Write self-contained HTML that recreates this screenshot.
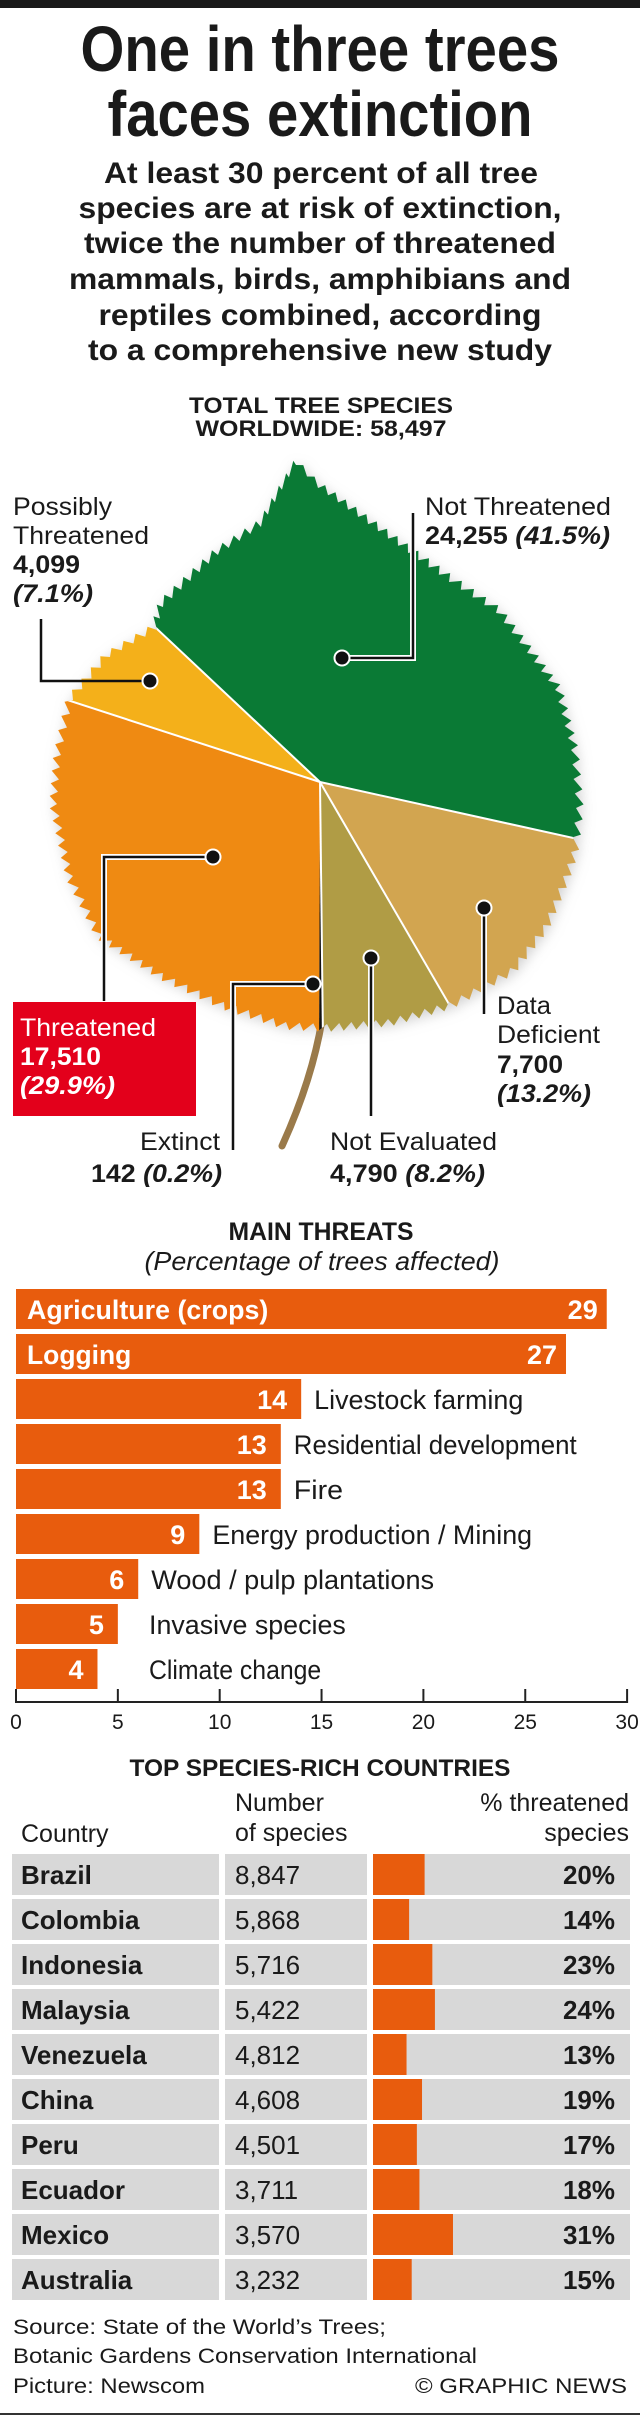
<!DOCTYPE html>
<html><head><meta charset="utf-8"><style>
html,body{margin:0;padding:0;background:#fff;}
svg{display:block;}
text{font-family:"Liberation Sans",sans-serif;fill:#1a1a1a;}
</style></head><body>
<svg id="g" width="640" height="2418" viewBox="0 0 640 2418" xmlns="http://www.w3.org/2000/svg">
<defs>
<filter id="sh" x="-10%" y="-10%" width="120%" height="120%"><feGaussianBlur stdDeviation="6"/></filter>
<clipPath id="leafclip"><path id="leafpathc" d=""/></clipPath>
</defs>
<rect x="0" y="0" width="640" height="8" fill="#1a1a1a"/>
<g font-weight="bold" text-anchor="middle">
<text x="320" y="71" font-size="64" textLength="479" lengthAdjust="spacingAndGlyphs">One in three trees</text>
<text x="320" y="136" font-size="64" textLength="425" lengthAdjust="spacingAndGlyphs">faces extinction</text>
</g>
<g font-weight="bold" text-anchor="middle" font-size="30">
<text x="321" y="183" textLength="434" lengthAdjust="spacingAndGlyphs">At least 30 percent of all tree</text>
<text x="320" y="218" textLength="483" lengthAdjust="spacingAndGlyphs">species are at risk of extinction,</text>
<text x="320" y="253" textLength="472" lengthAdjust="spacingAndGlyphs">twice the number of threatened</text>
<text x="320" y="289" textLength="502" lengthAdjust="spacingAndGlyphs">mammals, birds, amphibians and</text>
<text x="320" y="325" textLength="443" lengthAdjust="spacingAndGlyphs">reptiles combined, according</text>
<text x="320" y="360" textLength="464" lengthAdjust="spacingAndGlyphs">to a comprehensive new study</text>
</g>
<g font-weight="bold" text-anchor="middle" font-size="22">
<text x="321" y="413" textLength="264" lengthAdjust="spacingAndGlyphs">TOTAL TREE SPECIES</text>
<text x="321" y="436" textLength="251" lengthAdjust="spacingAndGlyphs">WORLDWIDE: 58,497</text>
</g>
<g id="leaf"></g>
<g id="callouts">
<path d="M41,619 V681 H150" fill="none" stroke="#111" stroke-width="2.5"/>
<path d="M413,513 V658 H342" fill="none" stroke="#fff" stroke-width="6"/>
<path d="M413,513 V658 H342" fill="none" stroke="#111" stroke-width="2.5"/>
<path d="M104,1001 V857 H213" fill="none" stroke="#fff" stroke-width="6"/>
<path d="M104,1001 V857 H213" fill="none" stroke="#111" stroke-width="2.5"/>
<path d="M233,1150 V984 H313" fill="none" stroke="#fff" stroke-width="6"/>
<path d="M233,1150 V984 H313" fill="none" stroke="#111" stroke-width="2.5"/>
<path d="M371,1116 V958" fill="none" stroke="#fff" stroke-width="6"/>
<path d="M371,1116 V958" fill="none" stroke="#111" stroke-width="2.5"/>
<path d="M484,1014 V908" fill="none" stroke="#fff" stroke-width="6"/>
<path d="M484,1014 V908" fill="none" stroke="#111" stroke-width="2.5"/>
<g fill="#111" stroke="#fff" stroke-width="2">
<circle cx="150" cy="681" r="7.5"/>
<circle cx="342" cy="658" r="7.5"/>
<circle cx="213" cy="857" r="7.5"/>
<circle cx="313" cy="984" r="7.5"/>
<circle cx="371" cy="958" r="7.5"/>
<circle cx="484" cy="908" r="7.5"/>
</g>
<g font-size="25">
<g>
<text x="13" y="515" textLength="99" lengthAdjust="spacingAndGlyphs">Possibly</text>
<text x="13" y="544" textLength="136" lengthAdjust="spacingAndGlyphs">Threatened</text>
<text x="13" y="573" font-weight="bold" textLength="67" lengthAdjust="spacingAndGlyphs">4,099</text>
<text x="13" y="602" font-weight="bold" font-style="italic" textLength="80" lengthAdjust="spacingAndGlyphs">(7.1%)</text>
</g>
<g>
<text x="425" y="515" textLength="186" lengthAdjust="spacingAndGlyphs">Not Threatened</text>
<text x="425" y="544" font-weight="bold" textLength="185" lengthAdjust="spacingAndGlyphs">24,255 <tspan font-style="italic">(41.5%)</tspan></text>
</g>
<g>
<rect x="13" y="1002" width="183" height="114" fill="#e3001b"/>
<text x="20" y="1036" style="fill:#fff" textLength="136" lengthAdjust="spacingAndGlyphs">Threatened</text>
<text x="20" y="1065" style="fill:#fff" font-weight="bold" textLength="81" lengthAdjust="spacingAndGlyphs">17,510</text>
<text x="20" y="1094" style="fill:#fff" font-weight="bold" font-style="italic" textLength="95" lengthAdjust="spacingAndGlyphs">(29.9%)</text>
</g>
<g text-anchor="end">
<text x="220" y="1150" textLength="80" lengthAdjust="spacingAndGlyphs">Extinct</text>
<text x="222" y="1182" font-weight="bold" textLength="131" lengthAdjust="spacingAndGlyphs">142 <tspan font-style="italic">(0.2%)</tspan></text>
</g>
<g>
<text x="330" y="1150" textLength="167" lengthAdjust="spacingAndGlyphs">Not Evaluated</text>
<text x="330" y="1182" font-weight="bold" textLength="155" lengthAdjust="spacingAndGlyphs">4,790 <tspan font-style="italic">(8.2%)</tspan></text>
</g>
<g>
<text x="497" y="1014" textLength="54" lengthAdjust="spacingAndGlyphs">Data</text>
<text x="497" y="1043" textLength="103" lengthAdjust="spacingAndGlyphs">Deficient</text>
<text x="497" y="1073" font-weight="bold" textLength="66" lengthAdjust="spacingAndGlyphs">7,700</text>
<text x="497" y="1102" font-weight="bold" font-style="italic" textLength="94" lengthAdjust="spacingAndGlyphs">(13.2%)</text>
</g>
</g>
</g>
<g text-anchor="middle">
<text x="321" y="1240" font-size="25" font-weight="bold" textLength="185" lengthAdjust="spacingAndGlyphs">MAIN THREATS</text>
<text x="322" y="1270" font-size="26" font-style="italic" textLength="355" lengthAdjust="spacingAndGlyphs">(Percentage of trees affected)</text>
</g>
<g id="bars"></g>
<g>
<text x="320" y="1776" text-anchor="middle" font-size="24" font-weight="bold" textLength="381" lengthAdjust="spacingAndGlyphs">TOP SPECIES-RICH COUNTRIES</text>
<text x="21" y="1842" font-size="25">Country</text>
<text x="235" y="1811" font-size="25">Number</text>
<text x="235" y="1841" font-size="25">of species</text>
<text x="629" y="1811" font-size="25" text-anchor="end">% threatened</text>
<text x="629" y="1841" font-size="25" text-anchor="end">species</text>
</g>
<g id="table"></g>
<g font-size="21">
<text x="13" y="2334" textLength="373" lengthAdjust="spacingAndGlyphs">Source: State of the World’s Trees;</text>
<text x="13" y="2363" textLength="464" lengthAdjust="spacingAndGlyphs">Botanic Gardens Conservation International</text>
<text x="13" y="2393" textLength="192" lengthAdjust="spacingAndGlyphs">Picture: Newscom</text>
<text x="627" y="2393" text-anchor="end" textLength="212" lengthAdjust="spacingAndGlyphs">© GRAPHIC NEWS</text>
</g>
<rect x="0" y="2413" width="640" height="2" fill="#333"/>
</svg>
<script>
// ---- pie data ----
const pieLabels = ["Not Threatened","Data Deficient","Not Evaluated","Extinct","Threatened","Possibly Threatened"];
const pieValues = [24255, 7700, 4790, 142, 17510, 4099];
const pieColors = ["#0a7a35","#d2a550","#b09c45","#111111","#ef8a12","#f4b01a"];
// ---- threats data ----
const threatLabels = ["Agriculture (crops)","Logging","Livestock farming","Residential development","Fire","Energy production / Mining","Wood / pulp plantations","Invasive species","Climate change"];
const threatValues = [29, 27, 14, 13, 13, 9, 6, 5, 4];
const axisTicks = [0, 5, 10, 15, 20, 25, 30];
// ---- countries data ----
const countries = ["Brazil","Colombia","Indonesia","Malaysia","Venezuela","China","Peru","Ecuador","Mexico","Australia"];
const speciesCounts = ["8,847","5,868","5,716","5,422","4,812","4,608","4,501","3,711","3,570","3,232"];
const pctThreatened = [20, 14, 23, 24, 13, 19, 17, 18, 31, 15];

const NS = "http://www.w3.org/2000/svg";
function mk(tag, attrs, parent){const e=document.createElementNS(NS,tag);for(const k in attrs)e.setAttribute(k,attrs[k]);if(parent)parent.appendChild(e);return e;}
function tw(label, perChar){return label.length*perChar;}

// ---- leaf ----
const outline=[[296,465],[318,488],[408,553],[449,582],[496,613],[527,653],[555,690],[571,750],[576,808],[571,852],[563,876],[543,925],[510,968],[449,1002],[388,1019],[327,1024],[286,1022],[224,1002],[163,973],[102,934],[73,876],[57,804],[61,755],[73,700],[110,657],[157,630],[163,607],[218,555],[261,527],[296,465]];
const lc=[318,780];
let d="M"+outline[0][0]+","+outline[0][1];
for(let i=1;i<outline.length;i++){
  const a=outline[i-1],b=outline[i];
  const len=Math.hypot(b[0]-a[0],b[1]-a[1]);
  const n=Math.max(1,Math.round(len/13));
  for(let j=1;j<=n;j++){
    const t0=(j-0.3)/n, t1=j/n;
    const mx=a[0]+(b[0]-a[0])*t0, my=a[1]+(b[1]-a[1])*t0;
    const vx=mx-lc[0], vy=my-lc[1], vl=Math.hypot(vx,vy)||1;
    const tx=mx+vx/vl*8, ty=my+vy/vl*8;
    d+=" L"+tx.toFixed(1)+","+ty.toFixed(1)+" L"+(a[0]+(b[0]-a[0])*t1).toFixed(1)+","+(a[1]+(b[1]-a[1])*t1).toFixed(1);
  }
}
d+="Z";
document.getElementById("leafpathc").setAttribute("d",d);
const leaf=document.getElementById("leaf");
const shadow=mk("path",{d:d,fill:"#999","fill-opacity":"0.45",filter:"url(#sh)",transform:"translate(2,3)"},leaf);


const stem=mk("path",{d:"M322,1020 Q312,1080 282,1146",fill:"none",stroke:"#9a7a4a","stroke-width":"7","stroke-linecap":"round"},leaf);


const slices=mk("g",{"clip-path":"url(#leafclip)"},leaf);
const cx=320, cy=782, R=420;
const total=pieValues.reduce((s,v)=>s+v,0);
let ang=-46.8;
function pt(a,r){const t=a*Math.PI/180;return [cx+r*Math.sin(t), cy-r*Math.cos(t)];}
const bounds=[];
pieValues.forEach((v,i)=>{
  const span=v/total*360;
  const p0=pt(ang,R), p1=pt(ang+span,R);
  const s=mk("path",{d:`M${cx},${cy} L${p0[0]},${p0[1]} A${R},${R} 0 ${span>180?1:0} 1 ${p1[0]},${p1[1]} Z`,fill:pieColors[i]},slices);
  
  
  bounds.push(ang);
  ang+=span;
});
bounds.forEach((a,i)=>{
  if(i===4) return;
  const p=pt(a,R);
  const l=mk("line",{x1:cx,y1:cy,x2:p[0],y2:p[1],stroke:"#fff","stroke-width":"2"},slices);
  
  
});

// ---- bars ----
const bars=document.getElementById("bars");
const x0=16, unit=20.37, barTop=1289, pitch=45, bh=40;
const xs=v=>x0+v*unit;
threatValues.forEach((v,i)=>{
  const y=barTop+i*pitch;
  const r=mk("rect",{x:x0,y:y,width:xs(v)-x0,height:bh,fill:"#e85c0d"},bars);
  
  
  const vt=mk("text",{x:xs(v)-(i<2?9:14),y:y+30,"text-anchor":"end","font-size":"27","font-weight":"bold",style:"fill:#fff"},bars);
  vt.textContent=v;
  
  
  let lt;
  if(i<2){
    lt=mk("text",{x:27,y:y+30,"font-size":"27","font-weight":"bold",style:"fill:#fff",textLength:tw(threatLabels[i],i===0?12.7:14.9),lengthAdjust:"spacingAndGlyphs"},bars);
  }else{
    lt=mk("text",{x:Math.max(149,xs(v)+13),y:y+30,"font-size":"27",textLength:tw(threatLabels[i],12.3),lengthAdjust:"spacingAndGlyphs"},bars);
  }
  lt.textContent=threatLabels[i];
  
  
});
const axis=mk("line",{x1:x0,y1:1702,x2:xs(30),y2:1702,stroke:"#222","stroke-width":"2"},bars);


axisTicks.forEach(t=>{
  const tk=mk("line",{x1:xs(t),y1:1689,x2:xs(t),y2:1703,stroke:"#222","stroke-width":"2"},bars);
  
  
  const tl=mk("text",{x:xs(t),y:1729,"text-anchor":"middle","font-size":"21"},bars);
  tl.textContent=t;
  
  
});

// ---- table ----
const table=document.getElementById("table");
const rowTop=1854, rowPitch=45, rowH=41, pctUnit=2.58;
countries.forEach((c,i)=>{
  const y=rowTop+i*rowPitch;
  const g=mk("g",{},table);
  
  
  mk("rect",{x:12,y:y,width:207,height:rowH,fill:"#d8d8d8"},g);
  mk("rect",{x:225,y:y,width:142,height:rowH,fill:"#d8d8d8"},g);
  mk("rect",{x:373,y:y,width:257,height:rowH,fill:"#d8d8d8"},g);
  const b=mk("rect",{x:373,y:y,width:pctThreatened[i]*pctUnit,height:rowH,fill:"#e85c0d"},g);
  
  
  const t1=mk("text",{x:21,y:y+30,"font-size":"26","font-weight":"bold"},g);t1.textContent=c;
  const t2=mk("text",{x:235,y:y+30,"font-size":"26"},g);t2.textContent=speciesCounts[i];
  const t3=mk("text",{x:615,y:y+30,"font-size":"26","font-weight":"bold","text-anchor":"end"},g);t3.textContent=pctThreatened[i]+"%";
});
</script>
</body></html>
